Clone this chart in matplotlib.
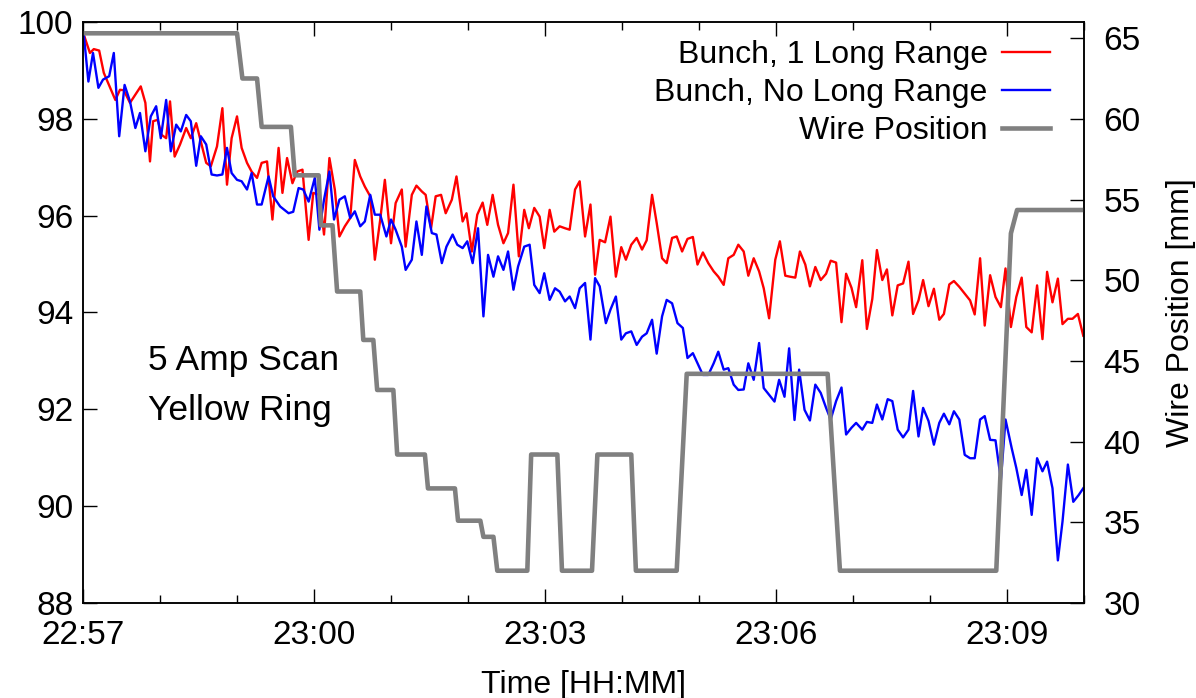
import matplotlib.pyplot as plt
from matplotlib.ticker import MultipleLocator, FuncFormatter

plt.rcParams['font.family'] = ['Liberation Sans', 'DejaVu Sans']

# minutes after 22:57
red_t = [0.01, 0.09, 0.14, 0.21, 0.27, 0.42, 0.48, 0.53, 0.61, 0.68,
         0.75, 0.81, 0.87, 0.91, 0.97, 1.02, 1.08, 1.13, 1.19, 1.26,
         1.34, 1.40, 1.47, 1.53, 1.60, 1.66, 1.74, 1.81, 1.87, 1.93,
         2.00, 2.06, 2.13, 2.19, 2.26, 2.32, 2.39, 2.46, 2.54, 2.59,
         2.65, 2.72, 2.78, 2.85, 2.93, 2.99, 3.07,
         3.13, 3.20, 3.27, 3.33, 3.40, 3.47, 3.53, 3.60, 3.66, 3.73,
         3.79, 3.86, 3.92, 4.00, 4.06, 4.14, 4.19, 4.27, 4.33, 4.40,
         4.45, 4.52, 4.58, 4.65, 4.71, 4.79, 4.85, 4.93, 4.98, 5.05,
         5.12, 5.19, 5.25, 5.32, 5.39, 5.46, 5.52, 5.59, 5.66, 5.73,
         5.79, 5.86, 5.93, 5.99, 6.06, 6.12, 6.19, 6.26,
         6.32, 6.39, 6.45, 6.52, 6.59, 6.65, 6.71, 6.78, 6.85, 6.92,
         6.99, 7.05, 7.12, 7.19, 7.26, 7.32, 7.39, 7.45, 7.52, 7.58,
         7.65, 7.71, 7.78, 7.85, 7.92, 7.98, 8.05, 8.12, 8.19, 8.25,
         8.32, 8.38, 8.45, 8.51, 8.58, 8.64, 8.71, 8.78, 8.84, 8.91,
         8.99, 9.05, 9.12, 9.18, 9.25, 9.31, 9.38, 9.44, 9.51,
         9.58, 9.65, 9.71, 9.78, 9.85, 9.91, 9.98, 10.04, 10.12, 10.18,
         10.25, 10.31, 10.38, 10.44, 10.51, 10.58, 10.65, 10.72, 10.78, 10.85,
         10.91, 10.98, 11.05, 11.12, 11.18, 11.25, 11.31, 11.38, 11.45, 11.52,
         11.58, 11.65, 11.71, 11.78, 11.85, 11.92, 11.98, 12.05, 12.12, 12.19,
         12.25, 12.32, 12.39, 12.46, 12.52, 12.59, 12.66, 12.72, 12.79, 12.85,
         12.92, 12.99]
red_v = [99.74, 99.36, 99.44, 99.41, 98.95, 98.39, 98.60, 98.59, 98.33, 98.50,
         98.67, 98.33, 97.12, 97.95, 97.98, 97.67, 97.60, 98.36, 97.22, 97.47,
         97.81, 97.60, 97.91, 97.53, 97.09, 97.02, 97.43, 98.22, 96.64, 97.60,
         98.05, 97.40, 97.09, 96.91, 96.78, 97.09, 97.12, 95.92, 97.40, 96.47,
         97.19, 96.67, 96.91, 96.95, 95.50, 96.47, 96.43,
         95.61, 97.19, 96.54, 95.57, 95.78, 95.95, 97.15, 96.81, 96.60, 96.40,
         95.09, 95.92, 96.74, 95.43, 96.26, 96.54, 95.36, 96.43, 96.62, 96.50,
         96.43, 95.74, 96.40, 96.43, 96.05, 96.33, 96.81, 95.88, 96.05, 95.26,
         96.02, 96.27, 95.81, 96.43, 95.81, 95.43, 95.64, 96.64, 95.16, 96.12,
         95.74, 96.16, 95.98, 95.33, 96.12, 95.67, 95.78, 95.74,
         95.71, 96.54, 96.71, 95.57, 96.23, 94.78, 95.50, 95.45, 95.98, 94.74,
         95.35, 95.09, 95.40, 95.54, 95.30, 95.49, 96.43, 95.85, 95.12, 95.02,
         95.54, 95.57, 95.26, 95.52, 95.56, 94.99, 95.24, 95.02, 94.85, 94.74,
         94.57, 95.12, 95.19, 95.40, 95.26, 94.76, 95.12, 94.85, 94.50, 93.88,
         95.09, 95.47, 94.76, 94.74, 94.72, 95.26, 94.99, 94.54, 94.94,
         94.67, 94.80, 95.07, 95.03, 93.80, 94.80, 94.51, 94.11, 95.08, 93.66,
         94.28, 95.29, 94.67, 94.89, 93.94, 94.56, 94.60, 95.05, 93.97, 94.25,
         94.67, 94.13, 94.49, 93.85, 93.97, 94.58, 94.65, 94.53, 94.39, 94.25,
         93.96, 95.12, 93.73, 94.77, 94.32, 94.11, 94.91, 93.70, 94.32, 94.72,
         93.70, 93.59, 94.56, 93.45, 94.84, 94.21, 94.70, 93.76, 93.87, 93.87,
         93.97, 93.52]

blue_t = [0.01, 0.07, 0.13, 0.20, 0.26, 0.34, 0.40, 0.47, 0.54, 0.61,
          0.68, 0.74, 0.81, 0.88, 0.95, 1.01, 1.08, 1.14, 1.21, 1.27,
          1.34, 1.40, 1.47, 1.53, 1.60, 1.67, 1.74, 1.81, 1.87, 1.93,
          2.00, 2.06, 2.13, 2.19, 2.26, 2.32, 2.41, 2.47, 2.56, 2.67,
          2.73, 2.80, 2.86, 2.93, 3.01, 3.07,
          3.13, 3.20, 3.26, 3.33, 3.40, 3.47, 3.53, 3.60, 3.66, 3.73,
          3.79, 3.86, 3.94, 4.00, 4.06, 4.14, 4.19, 4.27, 4.33, 4.40,
          4.46, 4.53, 4.59, 4.66, 4.72, 4.80, 4.86, 4.93, 4.99, 5.06,
          5.13, 5.20, 5.26, 5.33, 5.39, 5.46, 5.52, 5.59, 5.65, 5.73,
          5.80, 5.86, 5.93, 5.99, 6.06, 6.13, 6.19, 6.26,
          6.32, 6.39, 6.45, 6.52, 6.59, 6.65, 6.71, 6.79, 6.85, 6.92,
          6.99, 7.05, 7.12, 7.19, 7.26, 7.32, 7.39, 7.45, 7.52, 7.58,
          7.65, 7.72, 7.79, 7.85, 7.92, 7.98, 8.05, 8.12, 8.19, 8.25,
          8.32, 8.38, 8.45, 8.51, 8.58, 8.64, 8.71, 8.78, 8.84, 8.91,
          8.98, 9.04, 9.11, 9.17, 9.24, 9.30, 9.37, 9.44, 9.51,
          9.58, 9.65, 9.71, 9.78, 9.85, 9.91, 9.98, 10.04, 10.12, 10.18,
          10.25, 10.31, 10.38, 10.45, 10.51, 10.58, 10.65, 10.72, 10.78, 10.85,
          10.91, 10.98, 11.05, 11.12, 11.18, 11.25, 11.31, 11.38, 11.45, 11.52,
          11.58, 11.65, 11.71, 11.78, 11.85, 11.92, 11.98, 12.06, 12.12, 12.19,
          12.25, 12.32, 12.39, 12.46, 12.52, 12.59, 12.66, 12.72, 12.79, 12.86,
          12.93, 12.99]
blue_v = [99.74, 98.77, 99.36, 98.64, 98.81, 98.88, 99.36, 97.64, 98.70, 98.36,
          97.81, 98.12, 97.33, 98.05, 98.26, 97.60, 98.39, 97.33, 97.88, 97.74,
          98.08, 97.95, 97.03, 97.64, 97.47, 96.85, 96.83, 96.85, 97.40, 96.88,
          96.74, 96.71, 96.54, 96.88, 96.23, 96.23, 96.81, 96.40, 96.19, 96.05,
          96.08, 96.57, 96.54, 96.29, 96.78, 95.71,
          96.33, 96.91, 95.92, 96.33, 96.40, 95.95, 96.09, 95.78, 95.88, 96.43,
          96.02, 96.02, 95.57, 95.92, 95.71, 95.36, 94.88, 95.09, 95.88, 95.19,
          96.19, 95.64, 95.61, 95.02, 95.36, 95.61, 95.40, 95.33, 95.47, 95.02,
          95.74, 93.92, 95.19, 94.74, 95.16, 94.88, 95.26, 94.47, 94.95, 95.36,
          95.40, 94.57, 94.40, 94.81, 94.26, 94.50, 94.43, 94.23,
          94.33, 94.09, 94.50, 94.61, 93.44, 94.71, 94.54, 93.78, 94.06, 94.33,
          93.44, 93.57, 93.61, 93.33, 93.50, 93.57, 93.85, 93.15, 93.92, 94.26,
          94.19, 93.78, 93.68, 93.06, 93.16, 92.95, 92.71, 92.71, 92.95, 93.19,
          92.82, 92.85, 92.51, 92.40, 92.41, 92.95, 92.61, 93.37, 92.44, 92.30,
          92.16, 92.61, 92.26, 93.26, 91.78, 92.82, 91.99, 91.77, 92.51,
          92.34, 92.03, 91.79, 92.17, 92.45, 91.48, 91.62, 91.72, 91.58, 91.74,
          91.72, 92.10, 91.79, 92.21, 92.17, 91.58, 91.42, 91.58, 92.38, 91.44,
          92.03, 91.76, 91.27, 91.72, 91.91, 91.69, 91.96, 91.79, 91.06, 90.99,
          90.99, 91.79, 91.86, 91.37, 91.36, 90.54, 91.79, 91.20, 90.79, 90.23,
          90.75, 89.82, 90.99, 90.72, 90.92, 90.37, 88.88, 89.68, 90.86, 90.09,
          90.23, 90.37]

wire_t = [0.0, 2.00, 2.07, 2.26, 2.32, 2.70, 2.75, 3.06, 3.09, 3.24,
          3.30, 3.60, 3.64, 3.77, 3.82, 4.03, 4.08, 4.44, 4.48, 4.83,
          4.87, 5.16, 5.20, 5.33, 5.38, 5.77, 5.82, 6.16, 6.22, 6.61,
          6.68, 7.12, 7.18, 7.71, 7.84, 9.67, 9.83, 11.86, 12.05, 12.13, 13.0]
wire_mm = [65.3, 65.3, 62.5, 62.5, 59.5, 59.5, 56.5, 56.5, 53.4, 53.4,
           49.3, 49.3, 46.3, 46.3, 43.2, 43.2, 39.2, 39.2, 37.1, 37.1,
           35.1, 35.1, 34.1, 34.1, 32.0, 32.0, 39.2, 39.2, 32.0, 32.0,
           39.2, 39.2, 32.0, 32.0, 44.2, 44.2, 32.0, 32.0, 52.9, 54.35, 54.35]


def hhmm(m, pos):
    total = 22 * 60 + 57 + int(round(m))
    return f"{total // 60:02d}:{total % 60:02d}"


fig = plt.figure(figsize=(11.96, 6.98), dpi=100)
ax = fig.add_axes([0.0694, 0.1361, 0.8370, 0.8324])
ax2 = ax.twinx()

l1, = ax.plot(red_t, red_v, color='#ff0000', lw=1.7, label='Bunch, 1 Long Range')
l2, = ax.plot(blue_t, blue_v, color='#0000ff', lw=1.7, label='Bunch, No Long Range')
l3, = ax2.plot(wire_t, wire_mm, color='#808080', lw=3.3, label='Wire Position')

ax.set_xlim(0, 13)
ax.set_ylim(88, 100)
ax2.set_ylim(30, 66)

ax.xaxis.set_major_locator(MultipleLocator(3))
ax.xaxis.set_minor_locator(MultipleLocator(1))
ax.xaxis.set_major_formatter(FuncFormatter(hhmm))
ax.yaxis.set_major_locator(MultipleLocator(2))
ax2.yaxis.set_major_locator(MultipleLocator(5))

ax.tick_params(axis='both', which='both', direction='in', labelsize=24, width=1)
ax.tick_params(axis='x', which='both', top=True)
ax.tick_params(which='major', length=10)
ax.tick_params(which='minor', length=6)
ax.tick_params(axis='x', pad=12)
ax.tick_params(axis='y', pad=7)
ax2.tick_params(axis='y', direction='in', length=10, width=1, labelsize=24, pad=14)

for a in (ax, ax2):
    for s in a.spines.values():
        s.set_linewidth(1.1)

ax.set_xlabel('Time [HH:MM]', fontsize=23, labelpad=14)
ax2.set_ylabel('Wire Position [mm]', fontsize=23, labelpad=18)

ax.text(0.065, 0.375, "5 Amp Scan\nYellow Ring", transform=ax.transAxes,
        fontsize=25.5, ha='left', va='center', linespacing=1.65)

ax2.legend(handles=[l1, l2, l3], loc='upper right', bbox_to_anchor=(0.966, 0.969),
           frameon=False, markerfirst=False, fontsize=23, handlelength=1.5,
           handletextpad=0.45, labelspacing=0.25, borderpad=0, borderaxespad=0)

fig.savefig('out.png', dpi=100)
